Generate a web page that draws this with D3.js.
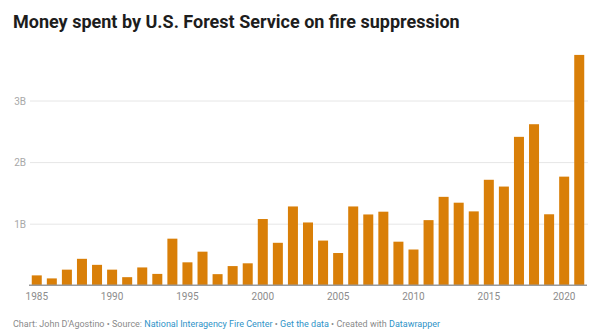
<!DOCTYPE html>
<html>
<head>
<meta charset="utf-8">
<script src="https://cdn.jsdelivr.net/npm/d3@7"></script>
<style>
  html, body { margin: 0; padding: 0; background: #fff; }
  svg { display: block; font-family: Roboto, "Noto Sans", sans-serif; }
</style>
</head>
<body>
<svg id="chart" width="600" height="333"></svg>
<script>
// Fire suppression spending by the U.S. Forest Service, in billions of dollars
const years = d3.range(1985, 2022);
const spending = [
  0.161, 0.112, 0.254, 0.430, 0.332, 0.254, 0.132, 0.290, 0.185, 0.757,
  0.373, 0.546, 0.181, 0.312, 0.357, 1.076, 0.690, 1.280, 1.020, 0.726,
  0.524, 1.280, 1.150, 1.195, 0.708, 0.581, 1.058, 1.436, 1.341, 1.200,
  1.713, 1.603, 2.410, 2.615, 1.153, 1.764, 3.740
];
const yTicks = [1, 2, 3];
const yTickLabels = ["1B", "2B", "3B"];
const xTickYears = [1985, 1990, 1995, 2000, 2005, 2010, 2015, 2020];

const data = years.map((y, i) => ({ year: y, value: spending[i] }));

const svg = d3.select("#chart");
const plot = { left: 29, right: 587, top: 38.9, bottom: 285.3 };

const x = d3.scaleBand()
  .domain(years)
  .range([plot.left, plot.right])
  .paddingInner(0.336)
  .paddingOuter(0.183);

const y = d3.scaleLinear()
  .domain([0, 4])
  .range([plot.bottom, plot.top]);

// Title
svg.append("text")
  .attr("x", 13)
  .attr("y", 27.5)
  .attr("font-size", 18)
  .attr("font-weight", 700)
  .attr("fill", "#1d1d1d")
  .text("Money spent by U.S. Forest Service on fire suppression");

// Horizontal gridlines with labels
const yAxis = d3.axisLeft(y)
  .tickValues(yTicks)
  .tickFormat((d, i) => yTickLabels[i])
  .tickSize(-(plot.right - plot.left))
  .tickPadding(4);

const gy = svg.append("g")
  .attr("transform", `translate(${plot.left + 1},0)`)
  .call(yAxis);
gy.select(".domain").remove();
gy.selectAll(".tick line").attr("stroke", "#e6e6e6").attr("stroke-width", 1);
gy.selectAll(".tick text")
  .attr("fill", "#a8a8a8")
  .attr("font-size", 10)
  .attr("font-family", "Roboto, sans-serif")
  .attr("dy", "0.36em");

// Bars
svg.append("g")
  .selectAll("rect")
  .data(data)
  .join("rect")
  .attr("x", d => x(d.year))
  .attr("width", x.bandwidth())
  .attr("y", d => y(d.value))
  .attr("height", d => y(0) - y(d.value))
  .attr("fill", "#d97f08");

// Baseline and year labels
const xAxis = d3.axisBottom(x)
  .tickValues(xTickYears)
  .tickSize(0)
  .tickPadding(8);

const gx = svg.append("g")
  .attr("transform", `translate(0,${plot.bottom})`)
  .call(xAxis);
gx.select(".domain")
  .attr("stroke", "#9a9a9a")
  .attr("stroke-width", 1.5)
  .attr("d", `M${plot.left},0H${plot.right}`);
gx.selectAll(".tick text")
  .attr("fill", "#8c8c8c")
  .attr("font-size", 10)
  .attr("font-family", "Roboto, sans-serif");

// Footer with credits
const footer = svg.append("text")
  .attr("x", 13)
  .attr("y", 326.5)
  .attr("font-size", 9)
  .attr("fill", "#8a8a8a");
const parts = [
  ["Chart: John D'Agostino \u2022 Source: ", false],
  ["National Interagency Fire Center", true],
  [" \u2022 ", false],
  ["Get the data", true],
  [" \u2022 Created with ", false],
  ["Datawrapper", true]
];
parts.forEach(([t, link]) => {
  footer.append("tspan")
    .attr("fill", link ? "#2f93c8" : "#8a8a8a")
    .text(t);
});
</script>
</body>
</html>
